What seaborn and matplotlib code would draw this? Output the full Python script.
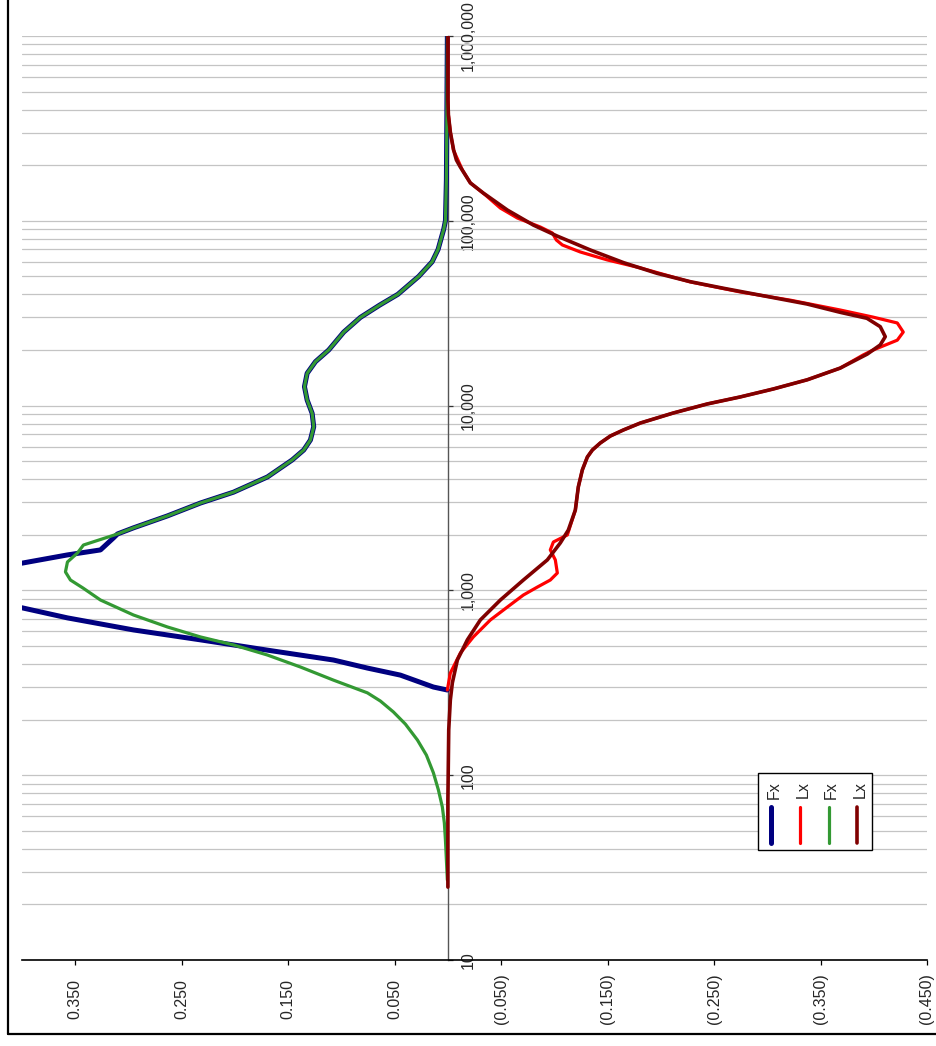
import matplotlib
matplotlib.use("Agg")
import matplotlib.pyplot as plt
import seaborn as sns
from matplotlib.ticker import LogLocator, NullFormatter
from matplotlib.lines import Line2D
from matplotlib.patches import Rectangle

# ---------------- data ----------------
fx1_freq = [1000000, 350700, 166400, 100000, 90000, 80000, 70000, 60000, 50000, 40000,
            35000, 30000, 25000, 20000, 17280, 14950, 12660, 10720, 9085, 7688, 6516,
            5750, 5077, 4110, 3400, 2970, 2530, 2180, 2020, 1923, 1656, 1556, 1406, 1355,
            844, 804, 710, 611, 540, 475, 420, 380, 348, 300, 289]
fx1_val = [0.0005, 0.001, 0.0014, 0.0023, 0.0039, 0.0064, 0.0092, 0.0148, 0.0274, 0.0470,
           0.0640, 0.0822, 0.0978, 0.1119, 0.1244, 0.1322, 0.1347, 0.1322, 0.1275, 0.1260,
           0.1291, 0.1354, 0.1463, 0.1695, 0.2014, 0.2324, 0.2634, 0.2953, 0.3103, 0.3141,
           0.3263, 0.3573, 0.3995, 0.425, 0.425, 0.3995, 0.3573, 0.2953, 0.2324, 0.1695,
           0.1075, 0.0756, 0.0446, 0.0136, 0.0005]

lx1_freq = [1000000, 450700, 373700, 302300, 241600, 188400, 160300, 138000, 117200, 103500,
            92500, 85900, 78700, 74000, 67800, 61400, 55600, 46700, 41200, 37200, 32900,
            30100, 28000, 25000, 22600, 20000, 18800, 15960, 13800, 12300, 11140, 10210,
            9120, 8050, 7380, 6846, 6280, 5750, 5270, 4490, 3630, 2720, 1995, 1828, 1656,
            1462, 1242, 1138, 1042, 944, 813, 692, 560, 458, 357, 289]
lx1_val = [0.0, 0.0, -0.0005, -0.0023, -0.0052, -0.0136, -0.0211, -0.0352, -0.0493, -0.0653,
           -0.0869, -0.0981, -0.1019, -0.1075, -0.1244, -0.1498, -0.1808, -0.2277, -0.2746,
           -0.3216, -0.3685, -0.3995, -0.4221, -0.4277, -0.4221, -0.3995, -0.3901, -0.3685,
           -0.3376, -0.3056, -0.2746, -0.2437, -0.2117, -0.1808, -0.1648, -0.1526, -0.1432,
           -0.1357, -0.1310, -0.1263, -0.1225, -0.1197, -0.1122, -0.0991, -0.0962, -0.1009,
           -0.1028, -0.0962, -0.0840, -0.0709, -0.0559, -0.0399, -0.0239, -0.0117, -0.0023,
           0.0005]

fx2_freq = [1000000, 350700, 166400, 100000, 90000, 80000, 70000, 60000, 50000, 40000,
            35000, 30000, 25000, 20000, 17280, 14950, 12660, 10720, 9085, 7688, 6516,
            5750, 5077, 4110, 3400, 2970, 2530, 2180, 2020, 1760, 1594, 1425, 1259, 1138,
            1030, 887, 736, 634, 560, 507, 447, 385, 327, 279, 252, 220, 189, 155, 128.5,
            103, 83.2, 67.3, 55.1, 44.6, 34.8, 27.1]
fx2_val = [0.0005, 0.001, 0.0014, 0.0023, 0.0039, 0.0064, 0.0092, 0.0148, 0.0274, 0.0470,
           0.0640, 0.0822, 0.0978, 0.1119, 0.1244, 0.1322, 0.1347, 0.1322, 0.1275, 0.1260,
           0.1291, 0.1354, 0.1463, 0.1695, 0.2014, 0.2324, 0.2634, 0.2953, 0.3103, 0.3423,
           0.3479, 0.3573, 0.3592, 0.3545, 0.3427, 0.3263, 0.2953, 0.2634, 0.2324, 0.2014,
           0.1695, 0.1385, 0.1075, 0.0756, 0.0634, 0.0512, 0.0399, 0.0286, 0.0202, 0.0136,
           0.0089, 0.0052, 0.0033, 0.0023, 0.0014, 0.0005]

lx2_freq = [1000000, 450700, 373700, 302300, 241600, 213300, 195400, 160300, 141300, 114300,
            94800, 82760, 69500, 59340, 51980, 46830, 43130, 38360, 35460, 31970, 29680,
            26730, 23600, 21300, 19000, 15960, 13800, 12300, 11140, 10210, 9120, 8050, 7380,
            6846, 6280, 5750, 5270, 4490, 3630, 2720, 2120, 1807, 1462, 1138, 887, 692, 540,
            420, 316, 255, 176, 73.5, 24.8]
lx2_val = [0.0, 0.0, -0.0005, -0.0023, -0.0054, -0.0080, -0.0117, -0.0211, -0.0333, -0.0559,
           -0.0803, -0.1025, -0.1338, -0.1651, -0.1964, -0.2277, -0.2590, -0.3059, -0.3373,
           -0.3685, -0.3936, -0.4061, -0.4108, -0.4061, -0.3939, -0.3685, -0.3376, -0.3056,
           -0.2746, -0.2437, -0.2117, -0.1808, -0.1648, -0.1526, -0.1432, -0.1357, -0.1310,
           -0.1263, -0.1225, -0.1197, -0.1131, -0.1056, -0.0934, -0.0709, -0.0493, -0.0305,
           -0.0183, -0.0089, -0.0042, -0.0023, -0.0008, 0.0, 0.0]

series_names = ["Fx", "Lx", "Fx", "Lx"]
series_colors = ["#000080", "#FF0000", "#339933", "#800000"]

value_ticks = [0.35, 0.25, 0.15, 0.05, -0.05, -0.15, -0.25, -0.35, -0.45]
value_tick_labels = ["0.350", "0.250", "0.150", "0.050", "(0.050)", "(0.150)",
                     "(0.250)", "(0.350)", "(0.450)"]
freq_ticks = [10, 100, 1000, 10000, 100000, 1000000]
freq_tick_labels = ["10", "100", "1,000", "10,000", "100,000", "1,000,000"]

# ---------------- figure ----------------
sns.set_style("white")
plt.rcParams["font.family"] = ["Liberation Sans", "DejaVu Sans"]

W, H = 937, 1046
fig = plt.figure(figsize=(W / 100, H / 100), dpi=100)
ax = fig.add_axes([22 / W, 86 / H, 905 / W, 924 / H])

widths = [3.6, 2.3, 2.3, 2.6]
data = [(fx1_val, fx1_freq), (lx1_val, lx1_freq), (fx2_val, fx2_freq), (lx2_val, lx2_freq)]
for (xv, yv), c, lw in zip(data, series_colors, widths):
    sns.lineplot(x=xv, y=yv, sort=False, estimator=None, color=c, linewidth=lw,
                 ax=ax, zorder=3, solid_capstyle="round", solid_joinstyle="round")

ax.set_yscale("log")
ax.set_ylim(10, 1e6)
ax.set_xlim(0.4, -0.45)

# grid (horizontal lines at every log step)
ax.yaxis.set_minor_locator(LogLocator(base=10, subs=[2, 3, 4, 5, 6, 7, 8, 9], numticks=30))
ax.yaxis.set_minor_formatter(NullFormatter())
ax.set_axisbelow(True)
ax.grid(True, axis="y", which="both", color="#c4c4c4", linewidth=0.9)
ax.grid(False, axis="x")

# spines
ax.spines["top"].set_visible(False)
ax.spines["left"].set_visible(False)
ax.spines["right"].set_visible(True)
ax.spines["right"].set_position(("data", 0))
ax.spines["right"].set_color("#555555")
ax.spines["right"].set_linewidth(1.0)
ax.spines["bottom"].set_color("black")
ax.spines["bottom"].set_linewidth(1.2)

# frequency (log) axis drawn along zero
ax.yaxis.set_ticks_position("right")
ax.set_yticks(freq_ticks)
ax.set_yticklabels(freq_tick_labels, rotation=90, va="center", ha="left", fontsize=11.5)
ax.tick_params(axis="y", which="major", direction="out", length=3.6, width=0.9,
               color="#333333", pad=6.0, right=True, left=False,
               labelright=True, labelleft=False)
ax.tick_params(axis="y", which="minor", length=0)

# value axis
ax.set_xticks(value_ticks)
ax.set_xticklabels(value_tick_labels, rotation=90, va="center", ha="center", fontsize=11.5)
ax.tick_params(axis="x", direction="out", length=3.6, width=0.9, color="black",
               pad=24.5, bottom=True)
ax.set_xlabel("")
ax.set_ylabel("")

# outer chart frame (left and bottom visible)
fig.add_artist(Line2D([8 / W, 8 / W], [12 / H, 1.0], color="black", lw=1.6,
                      transform=fig.transFigure))
fig.add_artist(Line2D([8 / W, 1.0], [12 / H, 12 / H], color="black", lw=1.6,
                      transform=fig.transFigure))

# legend (rotated, drawn by hand)
fig.add_artist(Rectangle((758 / W, (H - 850) / H), 114 / W, 77 / H,
                         transform=fig.transFigure, facecolor="white",
                         edgecolor="black", lw=1.0, zorder=5))
line_x = [770.7, 800.0, 828.7, 857.3]
label_x = [774.0, 803.0, 831.5, 860.0]
for lx_, tx_, name, c, lw in zip(line_x, label_x, series_names, series_colors, widths):
    fig.add_artist(Line2D([lx_ / W, lx_ / W], [(H - 843) / H, (H - 807) / H], color=c,
                          lw=lw, solid_capstyle="round", transform=fig.transFigure,
                          zorder=6))
    fig.text(tx_ / W, (H - 790) / H, name, rotation=90, ha="center", va="center",
             fontsize=11.5, zorder=6)

fig.savefig("out.png", dpi=100)
